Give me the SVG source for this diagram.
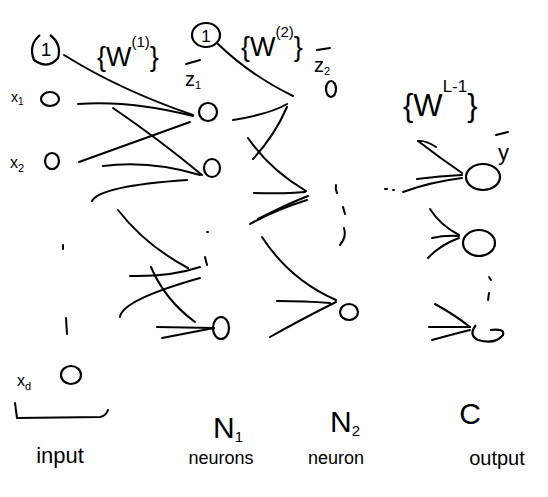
<svg xmlns="http://www.w3.org/2000/svg" width="548" height="497" viewBox="0 0 548 497">
<style>
  .ln { fill: none; stroke: #000; stroke-width: 2; stroke-linecap: round; stroke-linejoin: round; }
  .nd { fill: none; stroke: #000; stroke-width: 2.2; }
  .t { font-family: "Liberation Sans", "DejaVu Sans", sans-serif; fill: #000; }
</style>
<rect width="548" height="497" fill="#fff"/>

<g id="connectors" class="ln">
  <!-- input layer to hidden layer 1 -->
  <path d="M64,55 Q120,90 193,115"/>
  <path d="M78,104 Q130,100 193,116"/>
  <path d="M113,108 Q160,140 202,175"/>
  <path d="M79,162 Q140,140 190,122"/>
  <path d="M103,166 Q150,160 200,175"/>
  <path d="M92,201 Q100,186 187,180"/>
  <path d="M118,210 Q145,245 188,268"/>
  <path d="M130,276 Q170,277 200,267"/>
  <path d="M120,317 Q122,300 200,278"/>
  <path d="M151,267 Q165,300 195,322"/>
  <path d="M157,327 L214,328"/>
  <path d="M162,338 L214,328"/>
  <!-- hidden layer 1 to hidden layer 2 -->
  <path d="M218,44 Q250,75 293,96"/>
  <path d="M233,120 Q270,114 287,104"/>
  <path d="M287,107 Q275,135 253,159"/>
  <path d="M248,138 Q270,170 306,191"/>
  <path d="M254,193 Q285,194 305,192"/>
  <path d="M258,219 Q285,205 308,196"/>
  <path d="M250,224 Q275,210 307,200"/>
  <path d="M262,237 Q290,280 336,300"/>
  <path d="M277,301 Q305,301 330,303"/>
  <path d="M270,337 Q300,320 336,302"/>
  <!-- hidden layer L-1 to output -->
  <path d="M436,147 Q425,140 418,141 Q440,158 462,173"/>
  <path d="M417,179 Q440,176 462,175"/>
  <path d="M403,192 Q430,182 462,178"/>
  <path d="M430,209 Q440,225 459,235"/>
  <path d="M432,238 Q445,235 459,236"/>
  <path d="M428,258 Q440,245 459,238"/>
  <path d="M435,304 Q455,315 470,327"/>
  <path d="M429,327 L470,327"/>
  <path d="M432,340 Q450,335 470,330"/>
</g>

<g id="ellipsis" class="ln">
  <path d="M63,245 L63,249"/>
  <path d="M66,318 L67,334"/>
  <path d="M207,232 L208,232"/>
  <path d="M205,257 L207,265"/>
  <path d="M336,185 Q335,189 337,193"/>
  <path d="M343,207 L345,214"/>
  <path d="M344,228 Q347,237 340,245"/>
  <path d="M385,189 L387,189"/>
  <path d="M393,190 L394,190"/>
  <path d="M489,277 L491,280"/>
  <path d="M489,293 L488,300"/>
</g>

<g id="bias1">
  <path class="nd" d="M40,35 Q28,45 34,60 Q48,70 58,58 Q62,44 50,35"/>
  <text class="t" x="46" y="56" font-size="19" text-anchor="middle">1</text>
</g>
<g id="x1">
  <ellipse class="nd" cx="50" cy="99" rx="9" ry="7"/>
  <text class="t" x="11" y="102" font-size="14">x<tspan font-size="10" dy="3">1</tspan></text>
</g>
<g id="x2">
  <ellipse class="nd" cx="52" cy="161" rx="7" ry="8"/>
  <text class="t" x="10" y="168" font-size="16">x<tspan font-size="11" dy="4">2</tspan></text>
</g>
<g id="xd">
  <ellipse class="nd" cx="71" cy="375" rx="10" ry="9"/>
  <text class="t" x="17" y="386" font-size="16">x<tspan font-size="11" dy="4">d</tspan></text>
</g>
<g id="input-label">
  <path class="ln" d="M15,403 L17,418 L100,417 Q106,416 108,410"/>
  <text class="t" x="60" y="463" font-size="22" text-anchor="middle">input</text>
</g>

<g id="w1">
  <text class="t" x="97" y="66" font-size="27">{W<tspan font-size="15" dy="-19">(1)</tspan><tspan dy="19">}</tspan></text>
</g>
<g id="bias2">
  <ellipse class="nd" cx="206" cy="35" rx="14" ry="12"/>
  <text class="t" x="206" y="42" font-size="17" text-anchor="middle">1</text>
</g>
<g id="h1-1">
  <ellipse class="nd" cx="208" cy="112" rx="9" ry="9"/>
  <path class="ln" d="M186,64 L200,60"/>
  <text class="t" x="185" y="86" font-size="20">z<tspan font-size="11" dy="3">1</tspan></text>
</g>
<g id="h1-2">
  <ellipse class="nd" cx="212" cy="168" rx="8" ry="9"/>
</g>
<g id="h1-3">
  <ellipse class="nd" cx="221" cy="328" rx="8" ry="11"/>
</g>
<g id="n1-label">
  <text class="t" x="213" y="438" font-size="30">N<tspan font-size="15" dy="4">1</tspan></text>
  <text class="t" x="221" y="464" font-size="18" text-anchor="middle">neurons</text>
</g>

<g id="w2">
  <text class="t" x="241" y="56" font-size="27">{W<tspan font-size="15" dy="-19">(2)</tspan><tspan dy="19">}</tspan></text>
</g>
<g id="h2-1">
  <ellipse class="nd" cx="331" cy="89" rx="5" ry="8"/>
  <path class="ln" d="M317,50 L330,48"/>
  <text class="t" x="314" y="72" font-size="20">z<tspan font-size="11" dy="3">2</tspan></text>
</g>
<g id="h2-2">
  <ellipse class="nd" cx="349" cy="312" rx="9" ry="8"/>
</g>
<g id="n2-label">
  <text class="t" x="330" y="432" font-size="30">N<tspan font-size="15" dy="4">2</tspan></text>
  <text class="t" x="336" y="464" font-size="18" text-anchor="middle">neuron</text>
</g>

<g id="wL">
  <text class="t" x="403" y="116" font-size="31">{W<tspan font-size="17" dy="-24">L-1</tspan><tspan dy="24">}</tspan></text>
</g>
<g id="y1">
  <ellipse class="nd" cx="483" cy="177" rx="17" ry="13"/>
  <path class="ln" d="M496,135 L508,132"/>
  <text class="t" x="498" y="160" font-size="22">y</text>
</g>
<g id="y2">
  <ellipse class="nd" cx="479" cy="243" rx="16" ry="13"/>
</g>
<g id="yc">
  <path class="nd" d="M476,325 Q468,335 478,340 Q495,345 503,335 Q505,328 490,330"/>
</g>
<g id="output-label">
  <text class="t" x="470" y="424" font-size="30" text-anchor="middle">C</text>
  <text class="t" x="497" y="465" font-size="20" text-anchor="middle">output</text>
</g>
</svg>
